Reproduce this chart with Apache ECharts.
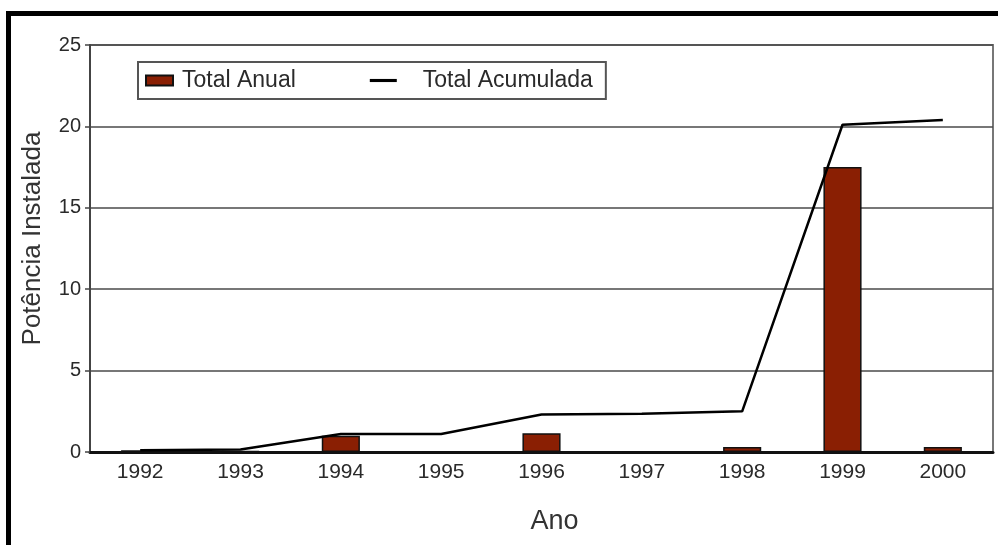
<!DOCTYPE html>
<html>
<head>
<meta charset="utf-8">
<script src="https://cdn.jsdelivr.net/npm/echarts@6/dist/echarts.min.js"></script>
<style>
html,body{margin:0;padding:0;background:#fff;}
#chart{width:998px;height:545px;}
</style>
</head>
<body>
<div id="chart"></div>
<script>
var categories = ['1992','1993','1994','1995','1996','1997','1998','1999','2000'];
var totalAnual = [0.1, 0.05, 1.0, 0, 1.15, 0, 0.3, 17.5, 0.3];
var totalAcumulada = [0.1, 0.15, 1.1, 1.1, 2.3, 2.35, 2.5, 20.1, 20.4];
var yTicks = [0, 5, 10, 15, 20, 25];

var FONT = '"Liberation Sans", Arial, sans-serif';
var chart = echarts.init(document.getElementById('chart'), null, {renderer:'canvas'});
chart.setOption({
  backgroundColor: '#ffffff',
  animation: false,
  textStyle: {fontFamily: FONT},
  grid: {left: 90, top: 45, right: 5, bottom: 93, show: true, borderColor: '#777', borderWidth: 2, backgroundColor: 'transparent'},
  legend: {
    left: 138, top: 62,
    padding: [7, 13, 7, 7],
    borderColor: '#555', borderWidth: 2,
    itemWidth: 27, itemHeight: 10, itemGap: 74,
    textStyle: {fontFamily: FONT, fontSize: 23, color: '#2a2a2a', padding: [0,0,0,4]},
    data: [
      {name: 'Total Anual', icon: 'rect'},
      {name: 'Total Acumulada', icon: 'path://M0,0 L26,0 L26,3 L0,3 Z', itemStyle: {color: '#000'}, textStyle: {padding: [0,0,0,21]}}
    ]
  },
  xAxis: {
    type: 'category',
    data: categories,
    name: 'Ano',
    nameLocation: 'middle',
    nameGap: 56,
    nameTextStyle: {fontFamily: FONT, fontSize: 27, color: '#333', padding: [0,0,0,26]},
    axisLine: {show: true, lineStyle: {color: '#111', width: 3}},
    axisTick: {show: false},
    axisLabel: {fontFamily: FONT, fontSize: 21, color: '#2a2a2a', margin: 10},
    splitLine: {show: false}
  },
  yAxis: {
    type: 'value',
    min: yTicks[0], max: yTicks[yTicks.length-1], interval: 5,
    name: 'Potência Instalada',
    nameLocation: 'middle',
    nameGap: 44,
    nameTextStyle: {fontFamily: FONT, fontSize: 26, color: '#333', padding: [0,0,0,20]},
    axisLine: {show: true, lineStyle: {color: '#444', width: 2}},
    axisTick: {show: true, length: 5, lineStyle: {color: '#444', width: 1.5}},
    axisLabel: {fontFamily: FONT, fontSize: 20, color: '#2a2a2a', margin: 9},
    splitLine: {show: true, lineStyle: {color: '#4a4a4a', width: 1.5}}
  },
  series: [
    {
      name: 'Total Anual',
      type: 'bar',
      data: totalAnual,
      barWidth: '38%',
      itemStyle: {color: '#8a1f03', borderColor: '#111', borderWidth: 1.5}
    },
    {
      name: 'Total Acumulada',
      type: 'line',
      data: totalAcumulada,
      symbol: 'none',
      lineStyle: {color: '#000', width: 2.5},
      itemStyle: {color: '#000'},
      z: 3
    }
  ],
  graphic: [
    {type: 'rect', shape: {x: 6, y: 11, width: 992, height: 5}, style: {fill: '#000'}, silent: true},
    {type: 'rect', shape: {x: 6, y: 11, width: 5, height: 534}, style: {fill: '#000'}, silent: true}
  ]
});
</script>
</body>
</html>
